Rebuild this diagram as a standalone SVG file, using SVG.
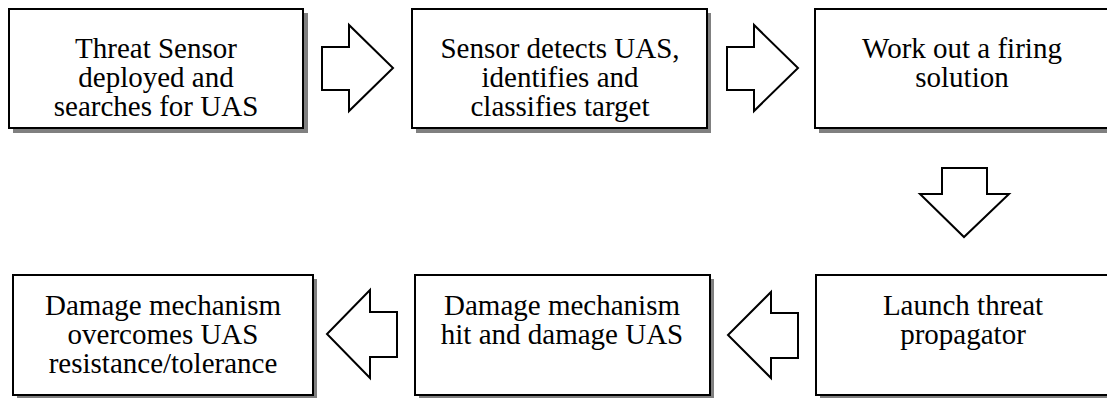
<svg xmlns="http://www.w3.org/2000/svg" width="1107" height="398" viewBox="0 0 1107 398">
<style>
.sh{fill:#808080}
.bx{fill:#fff;stroke:#000;stroke-width:2}
.ar{fill:#fff;stroke:#000;stroke-width:2;stroke-linejoin:miter}
.t{font-family:'Liberation Serif','Times New Roman','DejaVu Serif',serif;font-size:29px;fill:#000;text-anchor:middle}
</style>
<rect width="1107" height="398" fill="#fff"/>
<g id="connectors">
<path class="ar" d="M322,47 H349 V25 L393,68 L349,111 V90 H322 Z"/>
<path class="ar" d="M727,47 H754 V25 L798,68 L754,111 V90 H727 Z"/>
<path class="ar" d="M942,168 H987 V194 H1009 L964,237 L920,194 H942 Z"/>
<path class="ar" d="M798,313 H771 V292 L728,335 L771,378 V358 H798 Z"/>
<path class="ar" d="M397,312 H370 V290 L327,334 L370,378 V357 H397 Z"/>
</g>
<g id="n1" class="t" font-family="Liberation Serif, serif">
<rect class="sh" x="13" y="13" width="295" height="120"/>
<rect class="bx" x="9" y="9" width="294" height="119"/>
<text x="156" y="58">Threat Sensor</text>
<text x="156" y="87">deployed and</text>
<text x="156" y="116">searches for UAS</text>
</g>
<g id="n2" class="t" font-family="Liberation Serif, serif">
<rect class="sh" x="416" y="13" width="295" height="120"/>
<rect class="bx" x="412" y="9" width="295" height="119"/>
<text x="560" y="58">Sensor detects UAS,</text>
<text x="560" y="87">identifies and</text>
<text x="560" y="116">classifies target</text>
</g>
<g id="n3" class="t" font-family="Liberation Serif, serif">
<rect class="sh" x="819" y="13" width="295" height="120"/>
<rect class="bx" x="815" y="9" width="296" height="119"/>
<text x="962" y="58">Work out a firing</text>
<text x="962" y="87">solution</text>
</g>
<g id="n4" class="t" font-family="Liberation Serif, serif">
<rect class="sh" x="820" y="279" width="295" height="120"/>
<rect class="bx" x="816" y="275" width="296" height="120"/>
<text x="963" y="315">Launch threat</text>
<text x="963" y="344">propagator</text>
</g>
<g id="n5" class="t" font-family="Liberation Serif, serif">
<rect class="sh" x="419" y="279" width="295" height="120"/>
<rect class="bx" x="415" y="275" width="295" height="120"/>
<text x="562" y="315">Damage mechanism</text>
<text x="562" y="344">hit and damage UAS</text>
</g>
<g id="n6" class="t" font-family="Liberation Serif, serif">
<rect class="sh" x="17" y="279" width="300" height="120"/>
<rect class="bx" x="13" y="275" width="300" height="120"/>
<text x="163" y="315">Damage mechanism</text>
<text x="163" y="344">overcomes UAS</text>
<text x="163" y="373">resistance/tolerance</text>
</g>
</svg>
